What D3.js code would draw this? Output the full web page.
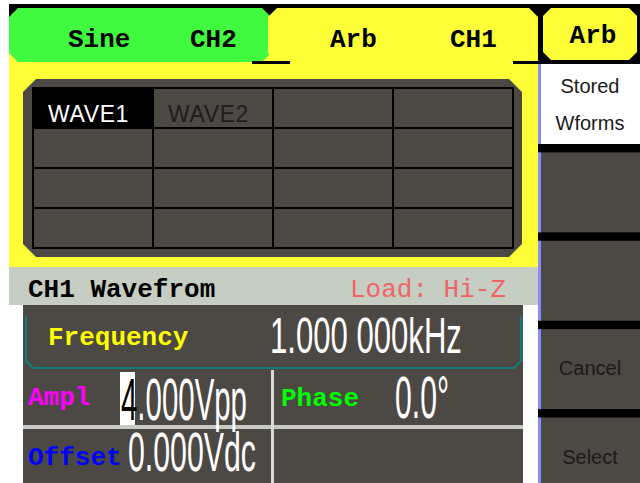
<!DOCTYPE html>
<html>
<head>
<meta charset="utf-8">
<script src="https://cdn.jsdelivr.net/npm/d3@7"></script>
<style>
  html, body { margin: 0; padding: 0; background: #fff; }
  svg { display: block; }
</style>
</head>
<body>
<svg width="640" height="483"></svg>
<script>
// ---- data ----
var tabNames = ["Sine", "Arb"];
var tabChannels = ["CH2", "CH1"];
var menuTitle = "Arb";
var waveNames = ["WAVE1", "WAVE2", "", "",
                 "", "", "", "",
                 "", "", "", "",
                 "", "", "", ""];
var selectedWave = 0;
var softKeys = [["Stored", "Wforms"], [], [], ["Cancel"], ["Select"]];
var statusText = ["CH1 Wavefrom", "Load: Hi-Z"];
var paramLabels = ["Frequency", "Ampl", "Phase", "Offset"];
var paramValues = ["1.000 000kHz", "4.000Vpp", "0.0\u00b0", "0.000Vdc"];

// ---- colours / fonts ----
var GREEN = "#40fa40", YELLOW = "#ffff38", DARK = "#4c4843",
    STATUS = "#c6cdc3", TEAL = "#127c7c", BLUE = "#8a8aff";
var MONO = "'Liberation Mono', 'DejaVu Sans Mono', monospace";
var SANS = "'Liberation Sans', Arial, sans-serif";

var svg = d3.select("svg");

// chamfered box path
function chamfer(x0, y0, x1, y1, c) {
  return "M" + (x0 + c) + "," + y0 + "H" + (x1 - c) + "L" + x1 + "," + (y0 + c) +
    "V" + (y1 - c) + "L" + (x1 - c) + "," + y1 + "H" + (x0 + c) + "L" + x0 + "," + (y1 - c) +
    "V" + (y0 + c) + "Z";
}

/**
 * top tab bar
 */
svg.append("rect").attr("x", 9).attr("y", 4).attr("width", 631).attr("height", 60).attr("fill", "#000");

var tabX = d3.scaleOrdinal().domain(tabNames).range([[9, 271], [268, 538]]);
var tabFill = d3.scaleOrdinal().domain(tabNames).range([GREEN, YELLOW]);

// yellow main panel (joined to active tab)
svg.append("rect").attr("x", 9).attr("y", 40).attr("width", 529).attr("height", 227).attr("fill", YELLOW);

svg.selectAll("path.tab")
  .data(tabNames)
  .enter().append("path")
    .attr("class", "tab")
    .attr("d", function(d) { var r = tabX(d); return chamfer(r[0], 8, r[1], 62, 9); })
    .attr("fill", function(d) { return tabFill(d); });

svg.append("rect").attr("x", 9).attr("y", 62).attr("width", 529).attr("height", 6).attr("fill", YELLOW);
svg.append("rect").attr("x", 252).attr("y", 61).attr("width", 38).attr("height", 3).attr("fill", "#000");

svg.selectAll("text.tabname")
  .data(tabNames)
  .enter().append("text")
    .attr("class", "tabname")
    .attr("x", function(d) { return d === "Sine" ? 68 : 330; })
    .attr("y", 47)
    .text(function(d) { return d; });
svg.selectAll("text.tabch")
  .data(tabChannels)
  .enter().append("text")
    .attr("class", "tabch")
    .attr("x", function(d, i) { return i === 0 ? 190 : 450; })
    .attr("y", 47)
    .text(function(d) { return d; });
svg.selectAll("text.tabname, text.tabch")
  .attr("font-family", MONO).attr("font-weight", "bold").attr("font-size", 26).attr("fill", "#000");

/**
 * right column: menu title + soft keys
 */
svg.append("rect").attr("x", 538).attr("y", 4).attr("width", 102).attr("height", 479).attr("fill", "#000");
svg.append("path").attr("d", chamfer(543, 8, 637, 60, 8)).attr("fill", YELLOW);
svg.append("rect").attr("x", 513).attr("y", 61).attr("width", 127).attr("height", 3).attr("fill", "#000");
svg.append("text")
  .attr("x", 593).attr("y", 43).attr("text-anchor", "middle")
  .attr("font-family", MONO).attr("font-weight", "bold").attr("font-size", 26)
  .text(menuTitle);

var keyY = d3.scaleBand().domain(d3.range(softKeys.length)).range([64, 497.5]).paddingInner(0.095);

var keys = svg.selectAll("g.key")
  .data(softKeys)
  .enter().append("g")
    .attr("class", "key")
    .attr("transform", function(d, i) { return "translate(538," + keyY(i) + ")"; });
keys.append("rect")
  .attr("width", 102).attr("height", keyY.bandwidth())
  .attr("fill", function(d, i) { return i === 0 ? "#fff" : DARK; });
keys.append("rect")
  .attr("width", 3).attr("height", keyY.bandwidth()).attr("fill", BLUE);
keys.selectAll("text")
  .data(function(d) { return d; })
  .enter().append("text")
    .attr("x", 52)
    .attr("y", function(d, j, arr) { return arr.length === 2 ? 29 + j * 37 : 46; })
    .attr("text-anchor", "middle")
    .attr("font-family", SANS).attr("font-size", 20)
    .attr("fill", "#1a1a1a")
    .text(function(d) { return d; });

/**
 * waveform table
 */
svg.append("path").attr("d", chamfer(23, 79, 522, 257, 13)).attr("fill", DARK);

var colX = d3.scaleBand().domain(d3.range(4)).range([33, 513]);
var rowY = d3.scaleBand().domain(d3.range(4)).range([88, 248]);

var cells = svg.selectAll("g.cell")
  .data(waveNames)
  .enter().append("g")
    .attr("class", "cell")
    .attr("transform", function(d, i) { return "translate(" + colX(i % 4) + "," + rowY(Math.floor(i / 4)) + ")"; });
cells.append("rect")
  .attr("width", colX.bandwidth()).attr("height", rowY.bandwidth())
  .attr("fill", function(d, i) { return i === selectedWave ? "#000" : DARK; })
  .attr("stroke", "#000").attr("stroke-width", 2);
cells.append("text")
  .attr("x", 15).attr("y", 34)
  .attr("font-family", SANS).attr("font-size", 23)
  .attr("letter-spacing", 0.6)
  .attr("fill", function(d, i) { return i === selectedWave ? "#fff" : "#1e1e1e"; })
  .text(function(d) { return d; });

/**
 * status bar
 */
svg.append("rect").attr("x", 9).attr("y", 267).attr("width", 529).attr("height", 38).attr("fill", STATUS);
svg.append("text").attr("x", 28).attr("y", 297)
  .attr("font-family", MONO).attr("font-weight", "bold").attr("font-size", 26).attr("fill", "#000")
  .text(statusText[0]);
svg.append("text").attr("x", 350).attr("y", 297)
  .attr("font-family", MONO).attr("font-size", 26).attr("fill", "#f06464")
  .text(statusText[1]);

/**
 * parameter panel
 */
svg.append("rect").attr("x", 23).attr("y", 305).attr("width", 500).attr("height", 178).attr("fill", DARK);
svg.append("path")
  .attr("d", "M26,316V361L33,368H514L521,361V316")
  .attr("fill", "none").attr("stroke", TEAL).attr("stroke-width", 2);
svg.append("rect").attr("x", 23).attr("y", 425).attr("width", 500).attr("height", 4).attr("fill", "#c8c8c8");
svg.append("rect").attr("x", 271).attr("y", 370).attr("width", 3).attr("height", 113).attr("fill", "#d8d8d8");

var labelColor = ["#ffff00", "#ff00ff", "#00ff00", "#0000ff"];
var labelPos = [[48, 345], [28, 405], [281, 406], [28, 465]];
svg.selectAll("text.plabel")
  .data(paramLabels)
  .enter().append("text")
    .attr("class", "plabel")
    .attr("x", function(d, i) { return labelPos[i][0]; })
    .attr("y", function(d, i) { return labelPos[i][1]; })
    .attr("font-family", MONO).attr("font-weight", "bold").attr("font-size", 26)
    .attr("fill", function(d, i) { return labelColor[i]; })
    .text(function(d) { return d; });

// highlighted digit cursor on amplitude
svg.append("rect").attr("x", 120).attr("y", 372).attr("width", 15).attr("height", 53).attr("fill", "#fff");

// value boxes: [x, baseline, width, font size] -- narrow digits by horizontal scale
var valuePos = [[270, 353, 192, 50], [121, 420, 126, 60], [395, 418, 54, 60], [128, 471, 128, 55]];
var vals = svg.selectAll("text.pvalue")
  .data(paramValues)
  .enter().append("text")
    .attr("class", "pvalue")
    .attr("font-family", SANS).attr("font-size", function(d, i) { return valuePos[i][3]; })
    .attr("fill", "#fff");
vals.each(function(d, i) {
  var t = d3.select(this);
  if (i === 1) {
    t.append("tspan").attr("fill", "#000").text(d.charAt(0));
    t.append("tspan").text(d.slice(1));
  } else {
    t.text(d);
  }
  var w = this.getComputedTextLength();
  var p = valuePos[i];
  t.attr("transform", "translate(" + p[0] + "," + p[1] + ") scale(" + (p[2] / w) + ",1)");
});
</script>
</body>
</html>
